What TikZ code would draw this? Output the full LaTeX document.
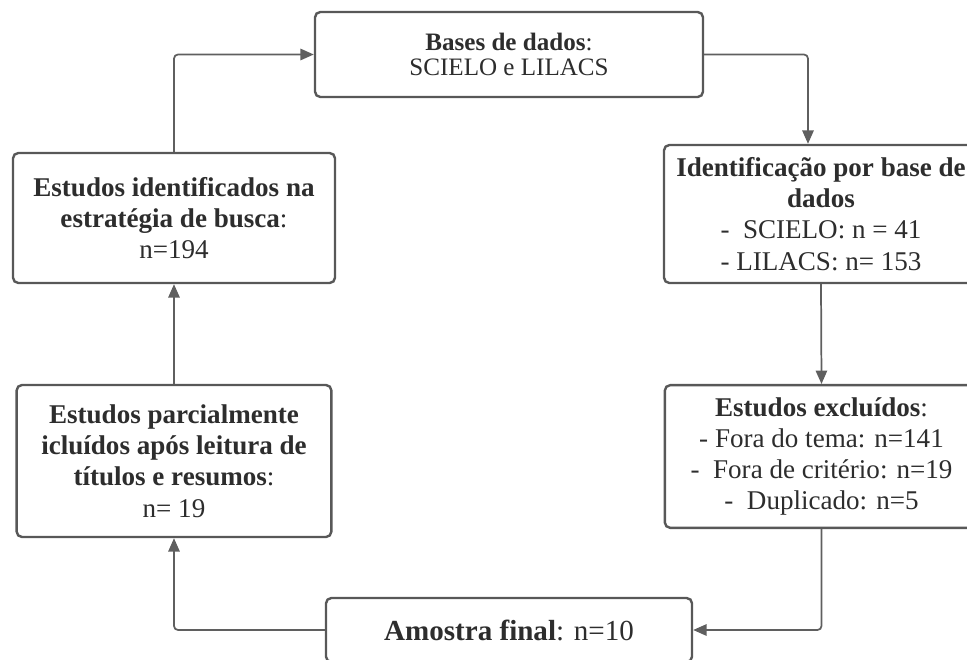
\documentclass[tikz,border=0pt]{standalone}
\usepackage{fontspec}
\setmainfont{Liberation Serif}
\usetikzlibrary{positioning, calc, arrows.meta}
\definecolor{boxGray}{RGB}{88, 88, 88}
\definecolor{lineGray}{RGB}{95, 95, 95}
\definecolor{textGray}{RGB}{45, 45, 45}

\begin{document}
\begin{tikzpicture}[
    % one unit = one pixel of the 967x660 frame, y pointing down
    x=0.75pt, y=-0.75pt,
    stage/.style={draw=boxGray, line width=1.8pt, fill=white, rounded corners=4pt,
                  inner sep=0pt, align=center, text=textGray,
                  font=\fontsize{20.3}{23.4}\selectfont},
    arr/.style={-{Triangle[length=10pt, width=8.5pt]}, line width=1.3pt,
                draw=lineGray, rounded corners=3pt}
  ]

  \clip (0,0) rectangle (967,660);

  % ── Boxes, clockwise from the top ────────────────────────────────────────
  \node[stage, minimum width=291pt, minimum height=63.75pt,
        font=\fontsize{18.8}{19}\selectfont]
        (bases) at (509, 54.5)
        {\textbf{Bases de dados}:\\SCIELO e LILACS};
  \node[stage, minimum width=235.5pt, minimum height=103.5pt]
        (identR) at (821, 214)
        {\textbf{Identificação por base de}\\\textbf{dados}\\
         -\ \ SCIELO: n = 41\\- LILACS: n= 153};
  \node[stage, minimum width=235pt, minimum height=107pt]
        (excl) at (821.5, 456.5)
        {\textbf{Estudos excluídos}:\\- Fora do tema: n=141\\
         -\ \ Fora de critério: n=19\\-\ \ Duplicado: n=5};
  \node[stage, minimum width=274.5pt, minimum height=48pt,
        font=\fontsize{21.8}{24}\selectfont]
        (amostra) at (509, 630)
        {\textbf{Amostra final}: n=10};
  \node[stage, minimum width=236pt, minimum height=114pt]
        (parc) at (174, 461)
        {\textbf{Estudos parcialmente}\\\textbf{icluídos após leitura de}\\
         \textbf{títulos e resumos}:\\n= 19};
  \node[stage, minimum width=241.5pt, minimum height=97.5pt]
        (identL) at (174, 218)
        {\textbf{Estudos identificados na}\\\textbf{estratégia de busca}:\\n=194};

  % ── Connectors ───────────────────────────────────────────────────────────
  \draw[arr] (identL.north) |- (bases.west);
  \draw[arr] (bases.east) -| ([xshift=-9.75pt]identR.north);
  \draw[arr] (identR.south) -- (excl.north);
  \draw[arr] (excl.south) |- (amostra.east);
  \draw[arr] (amostra.west) -| (parc.south);
  \draw[arr] (parc.north) -- (identL.south);

\end{tikzpicture}
\end{document}
